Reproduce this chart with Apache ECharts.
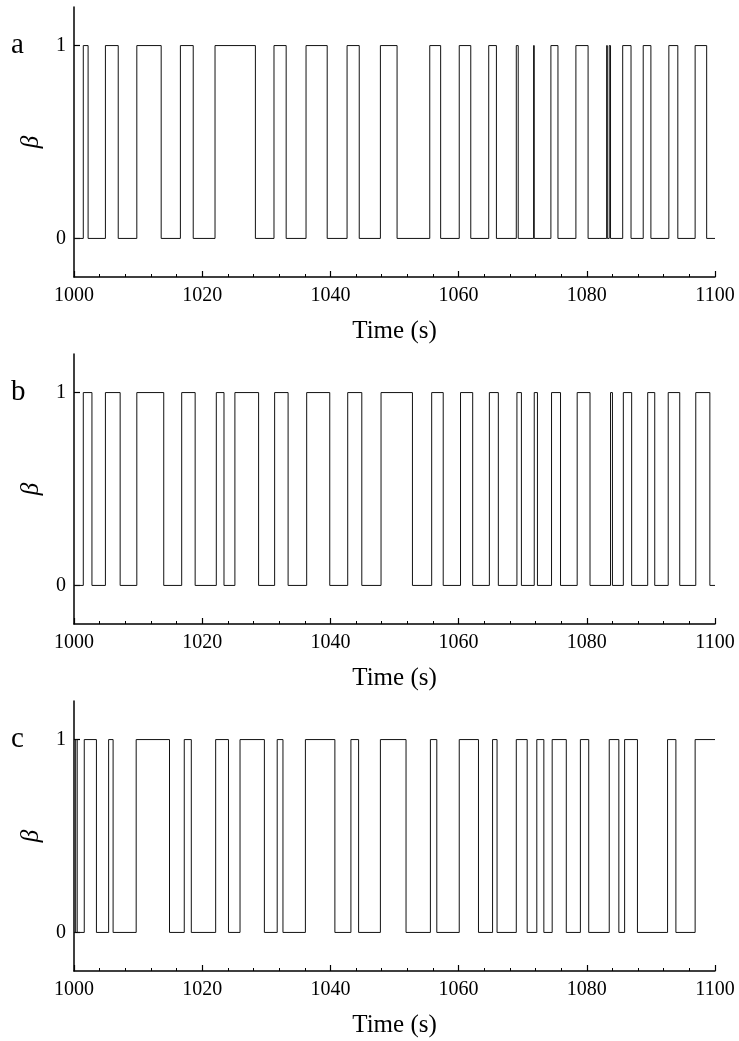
<!DOCTYPE html>
<html>
<head>
<meta charset="utf-8">
<script src="https://cdn.jsdelivr.net/npm/echarts@6/dist/echarts.min.js"></script>
<style>
    html, body { margin: 0; padding: 0; background: #fff; }
    #chart { width: 739px; height: 1041px; }
</style>
</head>
<body>
<div id="chart"></div>
<script>
// switching times of beta (each entry flips the state)
var startA = 0;
var switchA = [1001.45, 1002.2, 1004.9, 1006.9, 1009.8, 1013.6, 1016.6, 1018.6, 1022.0, 1028.3,
    1031.2, 1033.1, 1036.2, 1039.5, 1042.6, 1044.5, 1047.8, 1050.4, 1055.5, 1057.2,
    1060.1, 1061.9, 1064.7, 1065.9, 1069.0, 1069.3, 1071.7, 1071.8, 1074.4, 1075.5,
    1078.3, 1080.2, 1083.1, 1083.2, 1083.5, 1083.7, 1085.6, 1086.9, 1088.8, 1090.0,
    1092.8, 1094.2, 1096.9, 1098.7];

var startB = 0;
var switchB = [1001.45, 1002.8, 1004.9, 1007.2, 1009.8, 1014.0, 1016.8, 1018.9, 1022.2, 1023.4,
    1025.1, 1028.8, 1031.3, 1033.4, 1036.3, 1039.9, 1042.7, 1044.9, 1047.9, 1052.8,
    1055.8, 1057.6, 1060.3, 1062.2, 1064.8, 1066.2, 1069.1, 1069.8, 1071.8, 1072.3,
    1074.5, 1075.9, 1078.5, 1080.5, 1083.7, 1084.0, 1085.7, 1087.0, 1089.5, 1090.6,
    1092.7, 1094.5, 1097.0, 1099.2];

var startC = 0;
var switchC = [1000.26, 1000.5, 1001.6, 1003.5, 1005.4, 1006.1, 1009.7, 1014.9, 1017.2, 1018.3,
    1022.1, 1024.1, 1025.9, 1029.7, 1031.7, 1032.6, 1036.1, 1040.7, 1043.2, 1044.4,
    1047.8, 1051.8, 1055.6, 1056.6, 1060.1, 1063.1, 1065.3, 1066.0, 1069.0, 1070.7,
    1072.2, 1073.3, 1074.6, 1076.8, 1079.0, 1080.3, 1083.5, 1085.0, 1085.9, 1087.9,
    1092.6, 1093.9, 1096.9];

var panelLabels = ['a', 'b', 'c'];
var yTicks = [0, 1];
var tMin = 1000, tMax = 1100;

var FONT = '"Liberation Serif", "Times New Roman", serif';

// two points per switch so the edges are exactly vertical
function stepCoords(start, times) {
    var s = start;
    var d = [[tMin, s]];
    for (var i = 0; i < times.length; i++) {
        d.push([times[i], s]);
        s = 1 - s;
        d.push([times[i], s]);
    }
    d.push([tMax, s]);
    return d;
}

var myChart = echarts.init(document.getElementById('chart'), null, {renderer: 'canvas'});

var tops = [7, 354, 701];
var plotH = 270;
var grids = [], xAxes = [], yAxes = [], series = [], titles = [];
var coords = [stepCoords(startA, switchA), stepCoords(startB, switchB), stepCoords(startC, switchC)];

for (var k = 0; k < 3; k++) {
    grids.push({left: 74, top: tops[k], width: 641, height: plotH});
    xAxes.push({
        type: 'value', gridIndex: k, min: tMin, max: tMax, interval: 20,
        name: 'Time (s)', nameLocation: 'middle', nameGap: 42,
        nameTextStyle: {fontFamily: FONT, fontSize: 25, color: '#000'},
        axisLine: {onZero: false, lineStyle: {color: '#000', width: 1.5}},
        axisTick: {inside: true, length: 6, lineStyle: {color: '#000', width: 1.2}},
        minorTick: {show: true, splitNumber: 5, length: 3, lineStyle: {color: '#000', width: 1}},
        axisLabel: {
            fontFamily: FONT, fontSize: 20, color: '#000', margin: 9,
            formatter: function (v) { return String(v); }
        },
        splitLine: {show: false}
    });
    yAxes.push({
        type: 'value', gridIndex: k, min: -0.2, max: 1.2, interval: 0.2,
        name: 'β', nameLocation: 'middle', nameGap: 30, nameRotate: 90,
        nameTextStyle: {fontFamily: FONT, fontSize: 25, fontStyle: 'italic', color: '#000'},
        axisLine: {onZero: false, lineStyle: {color: '#000', width: 1.5}},
        axisTick: {inside: true, length: 6, customValues: yTicks, lineStyle: {color: '#000', width: 1.2}},
        axisLabel: {fontFamily: FONT, fontSize: 20, color: '#000', margin: 8, customValues: yTicks},
        splitLine: {show: false}
    });
    series.push({
        type: 'lines', coordinateSystem: 'cartesian2d', xAxisIndex: k, yAxisIndex: k,
        polyline: true, silent: true,
        data: [{coords: coords[k]}],
        lineStyle: {color: '#111', width: 1, opacity: 1}
    });
    titles.push({
        text: panelLabels[k], left: 6, top: tops[k] + 19,
        textStyle: {fontFamily: FONT, fontSize: 29, fontWeight: 'normal', color: '#000'}
    });
}

var option = {
    backgroundColor: '#fff',
    animation: false,
    title: titles,
    grid: grids,
    xAxis: xAxes,
    yAxis: yAxes,
    series: series
};
myChart.setOption(option);
</script>
</body>
</html>
